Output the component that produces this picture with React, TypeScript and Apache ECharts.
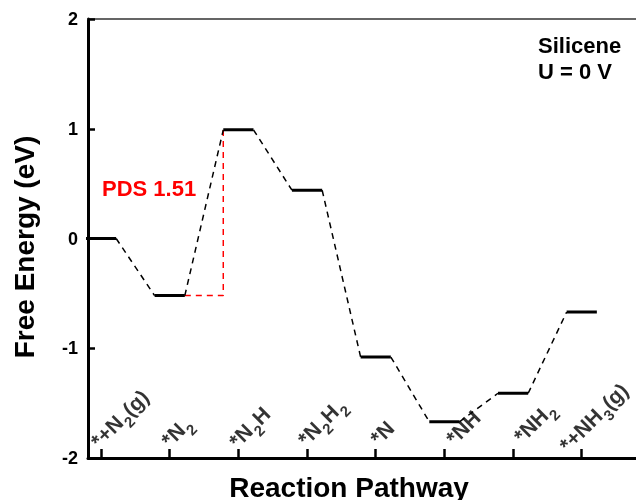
import React, { useEffect, useRef } from 'react';
import * as echarts from 'echarts';

// ---- data ----
const stepLabels = ['*+N_2(g)', '*N_2', '*N_2H', '*N_2H_2', '*N', '*NH', '*NH_2', '*+NH_3(g)'];
const freeEnergy = [0, -0.52, 0.99, 0.44, -1.08, -1.67, -1.41, -0.67];
const yTicks = [-2, -1, 0, 1, 2];
const pdsStep = [1, 2]; // from *N2 to *N2H
const pdsText = 'PDS 1.51';
const panelText = ['Silicene', 'U = 0 V'];
const axisTitles = { x: 'Reaction Pathway', y: 'Free Energy (eV)' };

// ---- layout tweaks (pixels) ----
const labelNudge = [
  [1, -6], [3, -7], [2, -6], [2, -8], [6, -9], [13, -9], [12, -11], [-11, -2],
];
const HALF = 0.22;
const FONT = '"Liberation Sans", Arial, Helvetica, sans-serif';

function toRich(s: string): string {
  const parts = s.split(/_(\d)/);
  let out = '';
  parts.forEach((p, i) => {
    if (!p) return;
    out += i % 2 === 1 ? `{s|${p}}` : `{m|${p}}`;
  });
  return out;
}

export default function App() {
  const ref = useRef<HTMLDivElement>(null);
  useEffect(() => {
    if (!ref.current) return;
    const chart = echarts.init(ref.current, undefined, { renderer: 'svg' });
    const idx = freeEnergy.map((_, i) => i);
    const series: any[] = [];
    // energy levels
    freeEnergy.forEach((v, i) => {
      series.push({
        type: 'line',
        data: [[i - HALF, v], [i + HALF, v]],
        symbol: 'none',
        lineStyle: { color: '#000', width: 3 },
        silent: true,
        z: 5,
      });
    });
    // connectors
    for (let i = 0; i < freeEnergy.length - 1; i++) {
      series.push({
        type: 'line',
        data: [[i + HALF, freeEnergy[i]], [i + 1 - HALF, freeEnergy[i + 1]]],
        symbol: 'none',
        lineStyle: { color: '#000', width: 1.5, type: [6, 5] },
        silent: true,
        z: 4,
      });
    }
    // PDS indicator
    const [a, b] = pdsStep;
    series.push({
      type: 'line',
      data: [
        [a + HALF, freeEnergy[a]],
        [b - HALF, freeEnergy[a]],
        [b - HALF, freeEnergy[b]],
      ],
      symbol: 'none',
      lineStyle: { color: '#ff0000', width: 1.5, type: [6, 5] },
      silent: true,
      z: 3,
    });
    // step labels
    series.push({
      type: 'scatter',
      symbolSize: 1,
      itemStyle: { color: 'transparent' },
      silent: true,
      z: 6,
      data: idx.map((i) => ({
        value: [i, -2],
        label: {
          show: true,
          position: labelNudge[i],
          rotate: 45,
          align: 'left',
          verticalAlign: 'bottom',
          formatter: toRich(stepLabels[i]),
          rich: {
            m: { fontSize: 21, fontWeight: 'bold', fontFamily: FONT, color: '#000', lineHeight: 21, verticalAlign: 'top' },
            s: { fontSize: 15, fontWeight: 'bold', fontFamily: FONT, color: '#000', lineHeight: 15, padding: [12, 0, 0, 1], verticalAlign: 'top' },
          },
        },
      })),
    });

    chart.setOption({
      animation: false,
      grid: { left: 88, right: 0, top: 19, bottom: 42 },
      xAxis: [
        {
          type: 'value',
          min: -0.19,
          max: 7.79,
          position: 'bottom',
          axisLine: { show: true, onZero: false, lineStyle: { color: '#000', width: 3 } },
          axisTick: { show: true, inside: true, length: 9, customValues: idx, lineStyle: { color: '#000', width: 2.5 } },
          axisLabel: { show: false },
          splitLine: { show: false },
        },
        {
          type: 'value',
          min: -0.19,
          max: 7.79,
          position: 'top',
          axisLine: { show: true, onZero: false, lineStyle: { color: '#333', width: 1.5 } },
          axisTick: { show: false },
          axisLabel: { show: false },
          splitLine: { show: false },
        },
      ],
      yAxis: {
        type: 'value',
        min: yTicks[0],
        max: yTicks[yTicks.length - 1],
        interval: 1,
        axisLine: { show: true, onZero: false, lineStyle: { color: '#000', width: 3 } },
        axisTick: { show: true, inside: true, length: 7, lineStyle: { color: '#000', width: 2.5 } },
        axisLabel: { color: '#000', fontSize: 18, fontWeight: 'bold', fontFamily: FONT, margin: 10 },
        splitLine: { show: false },
      },
      graphic: [
        {
          type: 'text', x: 24, y: 247, rotation: Math.PI / 2,
          style: { text: axisTitles.y, fontSize: 28, fontWeight: 'bold', fontFamily: FONT, fill: '#000', align: 'center', verticalAlign: 'middle' },
        },
        {
          type: 'text', x: 349, y: 487,
          style: { text: axisTitles.x, fontSize: 28, fontWeight: 'bold', fontFamily: FONT, fill: '#000', align: 'center', verticalAlign: 'middle' },
        },
        {
          type: 'text', x: 538, y: 45,
          style: { text: panelText[0], fontSize: 22, fontWeight: 'bold', fontFamily: FONT, fill: '#000', align: 'left', verticalAlign: 'middle' },
        },
        {
          type: 'text', x: 538, y: 71,
          style: { text: panelText[1], fontSize: 22, fontWeight: 'bold', fontFamily: FONT, fill: '#000', align: 'left', verticalAlign: 'middle' },
        },
        {
          type: 'text', x: 102, y: 188,
          style: { text: pdsText, fontSize: 22, fontWeight: 'bold', fontFamily: FONT, fill: '#ff0000', align: 'left', verticalAlign: 'middle' },
        },
      ],
      series,
    });
    return () => chart.dispose();
  }, []);
  return <div ref={ref} style={{ position: 'fixed', left: 0, top: 0, width: 636, height: 500 }} />;
}
